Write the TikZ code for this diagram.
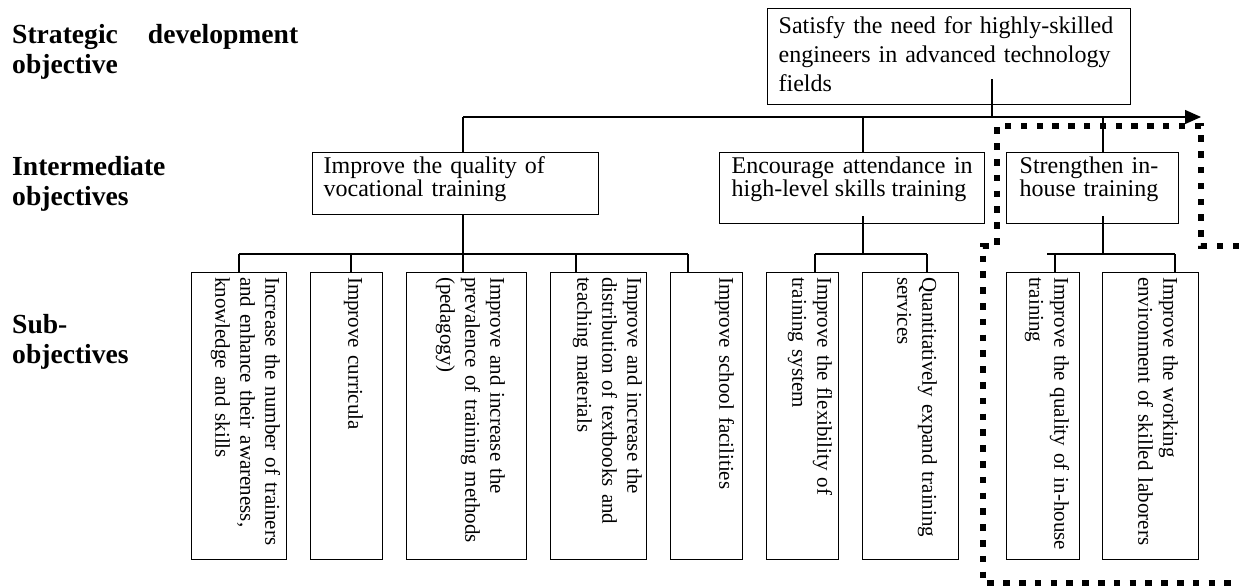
\documentclass[tikz,border=0pt]{standalone}
\usepackage{fontspec}
\setmainfont{Liberation Serif}
\usetikzlibrary{positioning, arrows.meta}

\begin{document}
\begin{tikzpicture}[
    x=1pt, y=-1pt,
    goal/.style={draw, rectangle, line width=1.3pt, anchor=north west, inner ysep=4pt, text height=17pt, align=left, font=\fontsize{24}{22.5}\selectfont},
    subgoal/.style={draw, rectangle, line width=1.3pt, rotate=-90, anchor=north west, inner xsep=4.5pt, text width=278pt, text height=15pt, align=left, font=\fontsize{21}{25}\selectfont},
    level/.style={anchor=base west, inner sep=0pt, text width=286pt, align=left, font=\fontsize{27.6}{30}\selectfont\bfseries},
    link/.style={line width=1.3pt},
    mainlink/.style={link, -{Triangle[length=16pt, width=14pt]}},
    focus/.style={line width=6.5pt, dash pattern=on 6.5pt off 9.3pt}
]
\useasboundingbox (0,0) rectangle (1239,586);

% level labels
\node[level] (lvl1) at (12,44) {Strategic\hfill development\\objective};
\node[level] (lvl2) at (12,175) {Intermediate\\objectives};
\node[level] (lvl3) at (12,333) {Sub-\\objectives};

% objectives
\node[goal, inner xsep=11pt, inner ysep=8pt, text width=341pt, text depth=63pt, font=\fontsize{24}{29}\selectfont] (top) at (767,8) {Satisfy the need for highly-skilled\\engineers in advanced technology\\fields};
\node[goal, inner xsep=11pt, text width=264pt, text depth=37pt] (imp) at (312,152) {Improve the quality of\\vocational training};
\node[goal, inner xsep=12pt, text width=241pt, text depth=46pt, align=justify] (enc) at (719,152) {Encourage attendance in high-level skills training};
\node[goal, inner xsep=13pt, text width=146pt, text depth=46pt] (str) at (1006,152) {Strengthen in-\\house training};

% sub-objectives
\node[subgoal, inner ysep=6pt, text depth=68pt] (s1) at (287,272) {Increase the number of trainers\\and enhance their awareness,\\knowledge and skills};
\node[subgoal, inner ysep=19pt, text depth=19pt] (s2) at (383,272) {Improve curricula};
\node[subgoal, inner ysep=21pt, text depth=63pt] (s3) at (527,272) {Improve and increase the\\prevalence of training methods\\(pedagogy)};
\node[subgoal, inner ysep=4pt, text depth=73pt] (s4) at (647,272) {Improve and increase the\\distribution of textbooks and\\teaching materials};
\node[subgoal, inner ysep=8pt, text depth=41pt] (s5) at (743,272) {Improve school facilities};
\node[subgoal, inner ysep=6pt, text depth=45pt] (s6) at (839,272) {Improve the flexibility of\\training system};
\node[subgoal, inner ysep=21pt, text depth=39pt] (s7) at (959,272) {Quantitatively expand training\\services};
\node[subgoal, inner ysep=10pt, text depth=38pt] (s8) at (1080,272) {Improve the quality of in-house\\training};
\node[subgoal, inner ysep=20pt, text depth=41pt] (s9) at (1199,272) {Improve the working\\environment of skilled laborers};

% main line
\coordinate (impTop) at (463,117);
\coordinate (topStem) at (992,117);
\coordinate (encTop) at (863,117);
\coordinate (strTop) at (1103,117);
\coordinate (lineEnd) at (1201,117);
\draw[mainlink] (impTop) -- (lineEnd);
\draw[link, shorten <=-26pt] (top.south -| topStem) -- (topStem);
\draw[link] (impTop) -- (impTop |- imp.north);
\draw[link] (encTop) -- (encTop |- enc.north);
\draw[link] (strTop) -- (strTop |- str.north);

% buses to sub-objectives
\foreach \n/\x in {1/239, 2/351, 3/463, 4/576, 5/688, 6/815, 7/927, 8/1055, 9/1175}
  \coordinate (d\n) at (\x,254);
\draw[link] (imp.south -| impTop) -- (impTop |- d1);
\draw[link] (d1) -- (d5);
\draw[link, shorten <=-8pt] (enc.south -| encTop) -- (encTop |- d6);
\draw[link] (d6) -- (d7);
\draw[link, shorten <=-8pt] (str.south -| strTop) -- (strTop |- d8);
\draw[link] ([xshift=-8pt]d8) -- (d9);
\foreach \n in {1,...,9}
  \draw[link] (d\n) -- (d\n |- s\n.west);

% focus frame
\draw[focus] (1239,246) -- (1201,246) -- (1201,126) -- (997,126) -- (997,246) -- (983,246) -- (983,583) -- (1239,583);
\end{tikzpicture}
\end{document}
